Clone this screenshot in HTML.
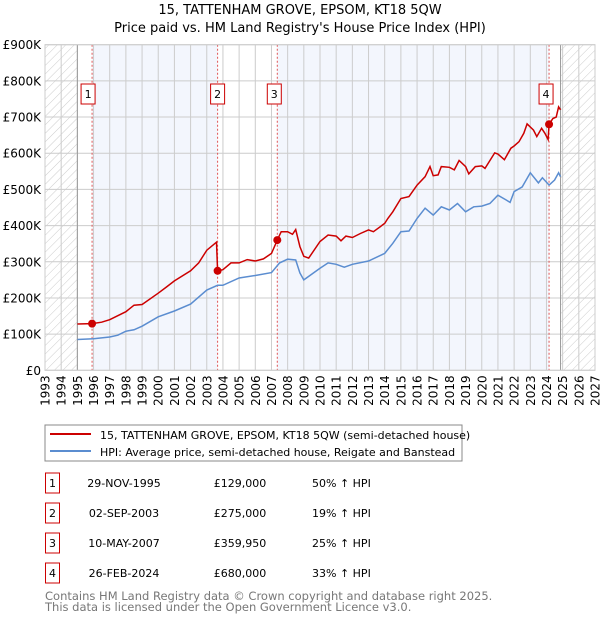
<!DOCTYPE html>
<html><head><meta charset="utf-8"><style>
body{margin:0;background:#fff;width:600px;height:620px;overflow:hidden;font-family:"DejaVu Sans","Liberation Sans",sans-serif;}
svg text{font-family:"DejaVu Sans","Liberation Sans",sans-serif;}
</style></head><body>
<svg id="chart" width="600" height="620" xmlns="http://www.w3.org/2000/svg">
<defs><pattern id="hatch" width="6" height="6" patternUnits="userSpaceOnUse" patternTransform="rotate(45)"><line x1="0" y1="0" x2="0" y2="6" stroke="#ccc" stroke-width="1"/></pattern></defs>
<text x="300" y="14" text-anchor="middle" font-size="13">15, TATTENHAM GROVE, EPSOM, KT18 5QW</text>
<text x="300" y="32" text-anchor="middle" font-size="13">Price paid vs. HM Land Registry's House Price Index (HPI)</text>
<g id="plot"></g>
<rect x="45" y="425" width="417" height="36" fill="#fff" stroke="#888"/>
<line x1="50" y1="434" x2="91" y2="434" stroke="#cc0000" stroke-width="2"/>
<text x="100" y="439" font-size="11">15, TATTENHAM GROVE, EPSOM, KT18 5QW (semi-detached house)</text>
<line x1="50" y1="451" x2="91" y2="451" stroke="#5b8dd0" stroke-width="2"/>
<text x="100" y="456" font-size="11">HPI: Average price, semi-detached house, Reigate and Banstead</text>
<g id="table"></g>
<text x="45" y="600" font-size="11.5" fill="#777">Contains HM Land Registry data © Crown copyright and database right 2025.</text>
<text x="45" y="611" font-size="11.5" fill="#777">This data is licensed under the Open Government Licence v3.0.</text>
</svg>
<script>
const hpiYears=[1995,1996,1997,1997.5,1998,1998.5,1999,2000,2001,2002,2003,2003.67,2004,2005,2006,2007,2007.5,2008,2008.5,2008.76,2009,2010,2010.5,2011,2011.5,2012,2013,2014,2014.5,2015,2015.5,2016,2016.5,2017,2017.5,2018,2018.5,2019,2019.5,2020,2020.5,2021,2021.5,2021.75,2022,2022.5,2023,2023.5,2023.75,2024.16,2024.5,2024.75,2024.87];
const hpiValues=[85,87,92,97,108,112,122,148,164,183,222,235,235,255,262,270,297,307,305,269,250,282,297,293,285,293,302,323,351,383,385,420,448,429,452,443,461,438,452,454,461,484,471,464,494,507,546,518,532,512,526,546,535];
const priceYears=[1995,1995.91,1996.5,1997,1998,1998.5,1999,2000,2000.5,2001,2002,2002.5,2003,2003.6,2003.67,2004,2004.5,2005,2005.5,2006,2006.5,2007,2007.36,2007.6,2008,2008.3,2008.5,2008.76,2009,2009.3,2010,2010.5,2011,2011.3,2011.6,2012,2012.5,2013,2013.3,2014,2014.2,2014.5,2015,2015.5,2016,2016.5,2016.8,2017,2017.3,2017.5,2018,2018.3,2018.6,2019,2019.2,2019.6,2020,2020.2,2020.8,2021,2021.4,2021.8,2022,2022.3,2022.6,2022.8,2023.2,2023.4,2023.7,2023.9,2024.1,2024.16,2024.4,2024.6,2024.75,2024.87];
const priceValues=[128,129,133,140,162,180,182,213,230,247,275,297,332,354,275,278,297,297,306,302,308,323,360,383,383,376,389,342,315,310,356,374,371,358,371,367,378,388,383,406,420,438,475,480,512,535,563,538,540,563,561,554,580,563,543,563,565,558,601,598,582,614,620,632,655,681,664,646,669,655,638,680,696,700,728,720];
const saleLabels=["1","2","3","4"];
const saleYears=[1995.91,2003.67,2007.36,2024.16];
const saleValues=[129,275,359.95,680];
const saleDates=["29-NOV-1995","02-SEP-2003","10-MAY-2007","26-FEB-2024"];
const salePrices=["£129,000","£275,000","£359,950","£680,000"];
const salePct=["50% ↑ HPI","19% ↑ HPI","25% ↑ HPI","33% ↑ HPI"];
const yTicks=[0,100,200,300,400,500,600,700,800,900];
const yTickLabels=["£0","£100K","£200K","£300K","£400K","£500K","£600K","£700K","£800K","£900K"];
const xMin=1993,xMax=2027,dataStart=1995,dataEnd=2024.87;
const L=45,R=595,T=44.7,B=370.3;
const X=y=>L+(y-xMin)/(xMax-xMin)*(R-L);
const Y=v=>B-v/900*(B-T);
const NS="http://www.w3.org/2000/svg";
const plot=document.getElementById('plot');
function mk(tag,attrs,parent){const e=document.createElementNS(NS,tag);for(const k in attrs)e.setAttribute(k,attrs[k]);(parent||plot).appendChild(e);return e;}
let e;
e=mk('rect',{x:L,y:T,width:R-L,height:B-T,fill:'#fff'});


// shading
e=mk('rect',{x:X(saleYears[0]),y:T,width:X(saleYears[1])-X(saleYears[0]),height:B-T,fill:'#f3f6fd'});


e=mk('rect',{x:X(saleYears[2]),y:T,width:X(saleYears[3])-X(saleYears[2]),height:B-T,fill:'#f3f6fd'});


e=mk('rect',{x:L,y:T,width:X(dataStart)-L,height:B-T,fill:'url(#hatch)'});


e=mk('rect',{x:X(dataEnd),y:T,width:R-X(dataEnd),height:B-T,fill:'url(#hatch)'});


// grid
for(let i=0;i<yTicks.length;i++){
 e=mk('line',{x1:L,x2:R,y1:Y(yTicks[i]),y2:Y(yTicks[i]),stroke:'#ccc','stroke-width':1});
 
 
 e=mk('text',{x:L-4,y:Y(yTicks[i])+4.5,'text-anchor':'end','font-size':12});
 e.textContent=yTickLabels[i];
 
 
}
for(let yr=xMin;yr<=xMax;yr++){
 e=mk('line',{x1:X(yr),x2:X(yr),y1:T,y2:B,stroke:'#ccc','stroke-width':1});
 
 
 e=mk('text',{x:0,y:0,'text-anchor':'end','font-size':12,transform:`translate(${X(yr)+4.5},${B+5}) rotate(-90)`});
 e.textContent=String(yr);
 
 
}
e=mk('line',{x1:X(dataStart),x2:X(dataStart),y1:T,y2:B,stroke:'#999','stroke-width':1});


e=mk('line',{x1:X(dataEnd),x2:X(dataEnd),y1:T,y2:B,stroke:'#999','stroke-width':1});


// sale vlines
for(let i=0;i<saleYears.length;i++){
 e=mk('line',{x1:X(saleYears[i]),x2:X(saleYears[i]),y1:T,y2:B,stroke:'#e05555','stroke-width':1,'stroke-dasharray':'2,2'});
 
 
}
e=mk('rect',{x:L,y:T,width:R-L,height:B-T,fill:'none',stroke:'#ccc'});


// lines
const pts=(xs,vs)=>xs.map((x,i)=>X(x).toFixed(1)+','+Y(vs[i]).toFixed(1)).join(' ');
e=mk('polyline',{points:pts(hpiYears,hpiValues),fill:'none',stroke:'#5b8dd0','stroke-width':1.5});


e=mk('polyline',{points:pts(priceYears,priceValues),fill:'none',stroke:'#cc0000','stroke-width':1.5});


for(let i=0;i<saleYears.length;i++){
 e=mk('circle',{cx:X(saleYears[i]),cy:Y(saleValues[i]),r:4,fill:'#cc0000'});
 
 
 const bx=X(saleYears[i])-7-(i==3?3:0)-(i==0?4:0)-(i==2?3:0);
 e=mk('rect',{x:bx,y:84,width:14,height:20,fill:'#fff',stroke:'#cc0000'});
 
 
 e=mk('text',{x:bx+7,y:98,'text-anchor':'middle','font-size':11});
 e.textContent=saleLabels[i];
 
 
}
// table
const tbl=document.getElementById('table');
for(let i=0;i<saleLabels.length;i++){
 const cy=483+i*30;
 e=mk('rect',{x:45.5,y:cy-10,width:14,height:20,fill:'#fff',stroke:'#cc0000'},tbl);
 
 
 e=mk('text',{x:52.5,y:cy+4,'text-anchor':'middle','font-size':11},tbl);
 e.textContent=saleLabels[i];
 
 
 e=mk('text',{x:124,y:cy+4,'text-anchor':'middle','font-size':11},tbl);
 e.textContent=saleDates[i];
 
 
 e=mk('text',{x:240,y:cy+4,'text-anchor':'middle','font-size':11},tbl);
 e.textContent=salePrices[i];
 
 
 e=mk('text',{x:312,y:cy+4,'font-size':11},tbl);
 e.textContent=salePct[i];
 
 
}
</script>
</body></html>
